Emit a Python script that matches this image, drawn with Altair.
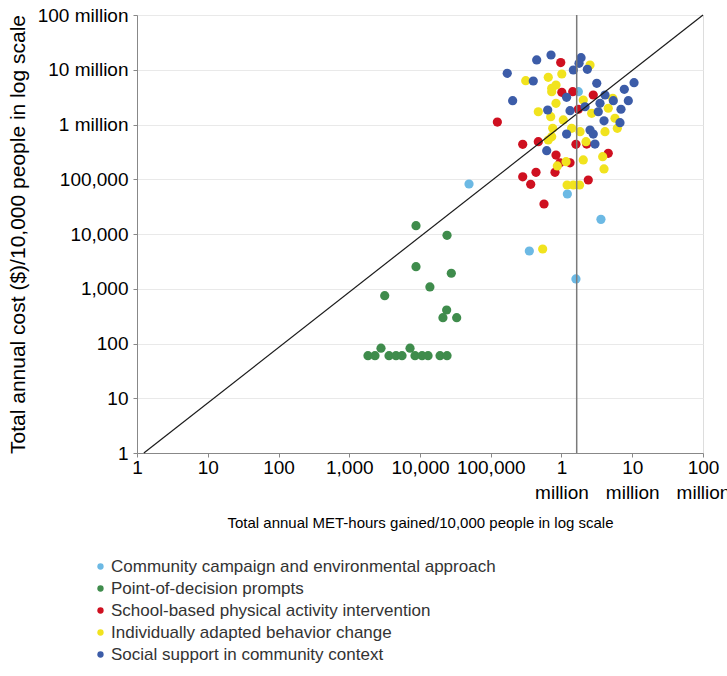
import altair as alt
import pandas as pd

categories = [
    "Community campaign and environmental approach",
    "Point-of-decision prompts",
    "School-based physical activity intervention",
    "Individually adapted behavior change",
    "Social support in community context",
]
colors = ["#6cb9e4", "#3f8c4c", "#cf1020", "#f1e31e", "#3c5ca8"]

community_x = [49300, 1210000, 3610000, 351000, 1600000, 1730000]
community_y = [81900, 53800, 18500, 4890, 1510, 3970000]

prompts_x = [8780, 24100, 8780, 27700, 13800, 3170, 23800, 21100, 33000,
             1840, 2310, 2810, 3650, 4580, 5570, 7230, 8500, 10700, 13000, 19200, 24100]
prompts_y = [14200, 9460, 2530, 1920, 1080, 747, 409, 296, 296,
             60, 60, 82, 60, 60, 60, 82, 60, 60, 60, 60, 60]

school_x = [975000, 1010000, 1440000, 2810000, 1730000, 124000, 283000, 470000, 836000,
            1600000, 2270000, 4580000, 953000, 1320000, 436000, 809000, 283000, 367000,
            2390000, 566000]
school_y = [13500000, 3870000, 3970000, 3460000, 1900000, 1110000, 435000, 485000, 277000,
            435000, 440000, 298000, 200000, 200000, 134000, 134000, 111000, 80900,
            96900, 35300]

individual_x = [312000, 650000, 1010000, 2530000, 727000, 836000, 727000, 836000, 470000,
                704000, 1060000, 2030000, 2670000, 4580000, 5300000, 5700000, 6150000,
                4120000, 1830000, 1390000, 751000, 727000, 650000, 2220000, 2030000,
                3820000, 3990000, 1160000, 873000, 1200000, 1470000, 1800000, 542000]
individual_y = [6310000, 7280000, 8360000, 12200000, 4580000, 5260000, 3970000, 2440000,
                1710000, 1390000, 1210000, 2800000, 1600000, 1980000, 3010000, 1300000,
                853000, 738000, 738000, 853000, 853000, 599000, 521000, 485000, 225000,
                258000, 154000, 209000, 175000, 78500, 78500, 78500, 5320]

social_x = [171000, 204000, 446000, 711000, 399000, 1890000, 1770000, 1470000, 2320000,
            3150000, 10600000, 7720000, 8800000, 4120000, 5400000, 3500000, 6930000,
            3310000, 1180000, 638000, 1320000, 2150000, 3990000, 6710000, 2530000,
            2810000, 1180000, 2970000, 618000]
social_y = [8600000, 2720000, 15100000, 18600000, 6230000, 16600000, 13100000, 9900000,
            10200000, 5660000, 5800000, 4400000, 2720000, 3460000, 2720000, 2440000,
            1900000, 1710000, 3140000, 1840000, 1790000, 2110000, 1170000, 1080000,
            793000, 670000, 670000, 440000, 332000]

diag_x = [1.25, 100000000]
diag_y = [1, 100000000]
threshold_x = [1640000]

tick_values = [1, 10, 100, 1000, 10000, 100000, 1000000, 10000000, 100000000]

rows = []
series = [
    (categories[0], community_x, community_y),
    (categories[1], prompts_x, prompts_y),
    (categories[2], school_x, school_y),
    (categories[3], individual_x, individual_y),
    (categories[4], social_x, social_y),
]
for cat, xs, ys in series:
    for a, b in zip(xs, ys):
        rows.append({"category": cat, "met": a, "cost": b})
df = pd.DataFrame(rows)
df["order"] = range(len(df))

FONT = "Liberation Sans"
xscale = alt.Scale(type="log", domain=[1, 100000000], nice=False)
yscale = alt.Scale(type="log", domain=[1, 100000000], nice=False)

x_title = "Total annual MET-hours gained/10,000 people in log scale"
y_title = "Total annual cost ($)/10,000 people in log scale"

x_axis = alt.Axis(
    values=tick_values,
    labelExpr="datum.value >= 1000000 ? [format(datum.value/1000000, 'd'), 'million'] : format(datum.value, ',')",
    grid=False, labelOverlap=False, labelFlush=False,
    tickSize=4, labelPadding=1, labelLineHeight=25,
    labelFontSize=19, titleFontSize=15, titleFontWeight="normal",
    titleY=69, titleBaseline="middle",
)
y_axis = alt.Axis(
    values=tick_values,
    labelExpr="datum.value >= 1000000 ? format(datum.value/1000000, 'd') + ' million' : format(datum.value, ',')",
    grid=True, gridColor="#e9e9e9", labelOverlap=False, labelFlush=False,
    tickSize=4, labelPadding=5,
    labelFontSize=19, titleFontSize=21, titleFontWeight="normal",
    titleX=-119, titleY=219, titleAngle=-90, titleAlign="center", titleBaseline="middle",
)

x_enc = alt.X("met:Q", scale=xscale, axis=x_axis, title=x_title)
y_enc = alt.Y("cost:Q", scale=yscale, axis=y_axis, title=y_title)

points = alt.Chart(df).mark_circle(size=85, opacity=1).encode(
    x=x_enc,
    y=y_enc,
    color=alt.Color(
        "category:N",
        scale=alt.Scale(domain=categories, range=colors),
        legend=alt.Legend(
            title=None, orient="none", legendX=-45, legendY=543,
            direction="vertical", symbolType="circle", symbolSize=40,
            symbolStrokeWidth=0, labelFontSize=17, labelFont=FONT,
            labelColor="#333333", rowPadding=4, labelOffset=2, labelLimit=600,
        ),
    ),
    order=alt.Order("order:Q"),
)

diag_df = pd.DataFrame({"met": diag_x, "cost": diag_y})
diag = alt.Chart(diag_df).mark_line(color="#1a1a1a", strokeWidth=1.2).encode(
    x=x_enc, y=y_enc
)

rule_df = pd.DataFrame({"met": threshold_x})
rule = alt.Chart(rule_df).mark_rule(color="#7a7a7a", strokeWidth=1.5).encode(x=x_enc)

chart = alt.layer(points, diag, rule).properties(
    width=566, height=438,
    autosize=alt.AutoSizeParams(type="none"),
    padding={"left": 137, "top": 15, "right": 24, "bottom": 223},
).configure_view(
    stroke="#d9d9d9", strokeWidth=1.5
).configure_axis(
    domainColor="#a6a6a6", domainWidth=1.5, tickColor="#a6a6a6",
    labelFont=FONT, titleFont=FONT, labelColor="#3a3a3a", titleColor="#3a3a3a",
).configure(background="white")

chart.save("out.html", embed_options={"renderer": "svg", "actions": False})
